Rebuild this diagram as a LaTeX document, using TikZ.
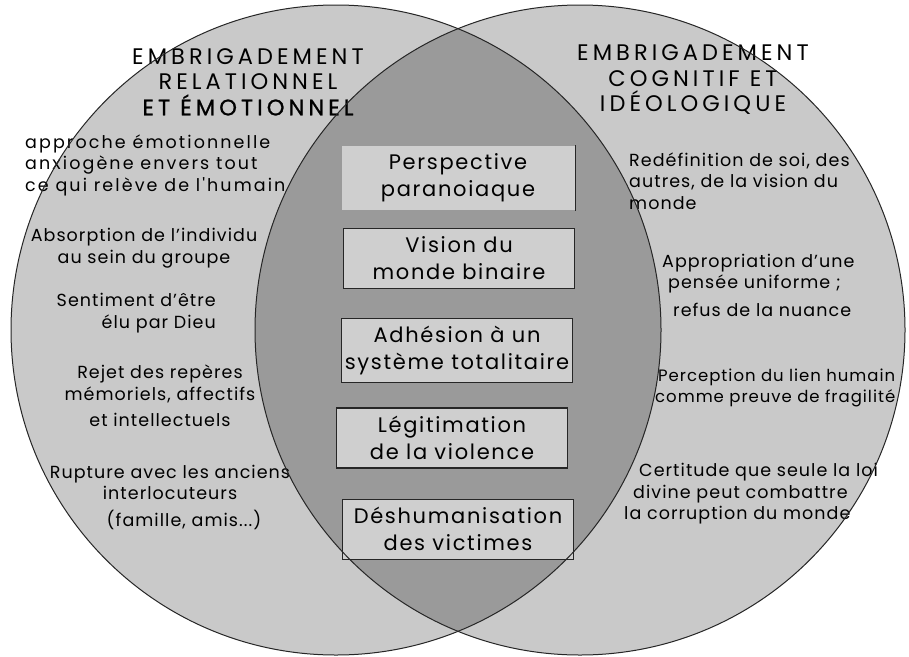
\documentclass[tikz,border=0pt]{standalone}
\usepackage{fontspec}
\setmainfont{Poppins}[LetterSpace=6]
\newfontfamily\boxfont{Poppins}[LetterSpace=8]
\newfontfamily\titlefont{Poppins}[LetterSpace=18]
\newfontfamily\heavyfont{Poppins}[LetterSpace=18,FakeBold=1]
\newfontfamily\spacedfont{Poppins}[LetterSpace=12]
\usepackage{tikz}
\usetikzlibrary{positioning}
\definecolor{ringgray}{RGB}{201,201,201}
\definecolor{lensgray}{RGB}{154,154,154}
\definecolor{boxgray}{RGB}{207,207,207}

\begin{document}
\begin{tikzpicture}[
        x=1pt, y=-1pt,
        node distance=20pt,
        idea/.style={draw=black!85, line width=1.3pt, fill=boxgray, align=center, minimum width=231pt, minimum height=60pt, inner sep=0pt, font=\boxfont\fontsize{21}{27}\selectfont},
        title/.style={align=center, inner sep=0pt, font=\titlefont\fontsize{22.5}{25.5}\selectfont},
        note/.style={inner sep=0pt, font=\fontsize{17.5}{21.5}\selectfont},
        ring/.style={line width=1pt, draw=black!85}
    ]
    \useasboundingbox (0,0) rectangle (909,656);
    \fill[white] (0,0) rectangle (909,656);
    \coordinate (lc) at (336,330);
    \coordinate (rc) at (580,330);

    % the two circles and their common lens
    \fill[ringgray] (lc) circle[radius=325];
    \fill[ringgray] (rc) circle[radius=325];
    \begin{scope}
        \clip (lc) circle[radius=325];
        \fill[lensgray] (rc) circle[radius=325];
    \end{scope}

    % stacked boxes in the lens
    \node[idea, draw=none, minimum width=233pt, minimum height=64pt] (persp) at (458,178) {Perspective\\paranoiaque};
    \node[idea, below=17pt of persp, xshift=1pt] (binary) {Vision du\\monde binaire};
    \node[idea, below=29pt of binary, xshift=-2pt, minimum height=64pt] (totalit) {Adhésion à un\\système totalitaire};
    \node[idea, below=24pt of totalit, xshift=-5pt] (violence) {Légitimation\\de la violence};
    \node[idea, below=30pt of violence, xshift=6pt] (victims) {Déshumanisation\\des victimes};
    \draw[line width=1.3pt, black!85] (persp.north east) -- (persp.south east);

    % left circle
    \node[title] (ltitle) at (248,82) {EMBRIGADEMENT\\RELATIONNEL\\{\heavyfont ET ÉMOTIONNEL}};
    \node[note, anchor=west, align=left, font=\spacedfont\fontsize{17.5}{21.5}\selectfont] (anxio) at (25,165) {approche émotionnelle\\anxiogène envers tout\\ce qui relève de l'humain};
    \node[note, align=center] (absorb) at (144,248) {Absorption de l’individu\\au sein du groupe};
    \node[note, anchor=east, align=right] (elu) at (216,313) {Sentiment d’être\\élu par Dieu};
    \node[note, align=center] (rejet) at (160,396) {Rejet des repères\\mémoriels, affectifs\\[5pt]et intellectuels};
    \node[note, align=center] (rupture) at (170,497) {Rupture avec les anciens\\interlocuteurs\\[5pt]\hspace*{28pt}(famille, amis...)};

    % right circle
    \node[title] (rtitle) at (693,80) {EMBRIGADEMENT\\COGNITIF ET\\IDÉOLOGIQUE};
    \node[note, anchor=west, align=left] (redef) at (629,181) {Redéfinition de soi, des\\autres, de la vision du\\monde};
    \node[note, anchor=west, align=left] (uniform) at (662,285) {Appropriation d’une\\\hspace*{6pt}pensée uniforme ;\\[6pt]\hspace*{11pt}refus de la nuance};
    \node[note, anchor=west, align=left, font=\fontsize{16.5}{21.5}\selectfont] (fragile) at (655,388) {\hspace*{3pt}Perception du lien humain\\comme preuve de fragilité};
    \node[note, anchor=west, align=left] (divine) at (624,494) {\hspace*{15pt}Certitude que seule la loi\\\hspace*{9pt}divine peut combattre\\la corruption du monde};

    \draw[ring] (lc) circle[radius=325];
    \draw[ring] (rc) circle[radius=325];
\end{tikzpicture}
\end{document}
